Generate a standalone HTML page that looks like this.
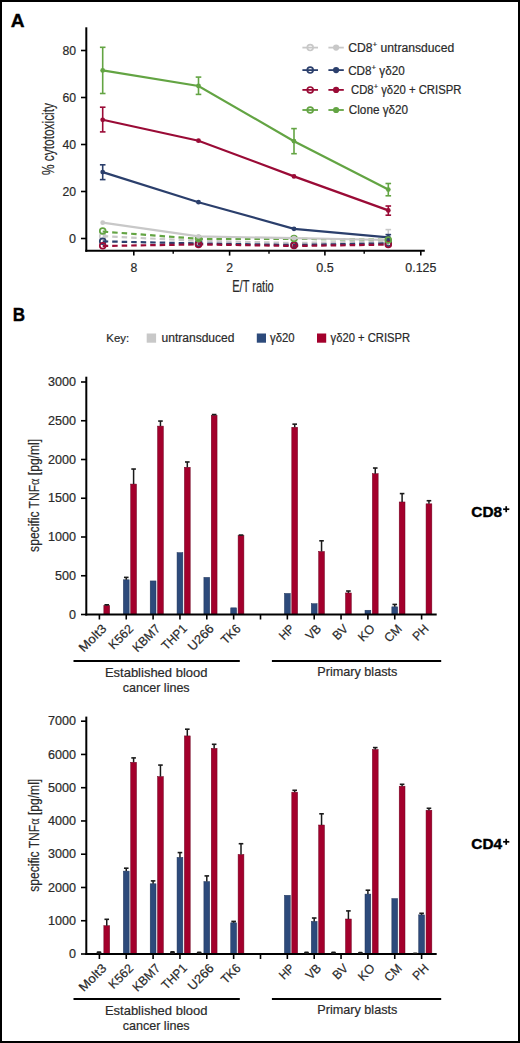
<!DOCTYPE html>
<html><head><meta charset="utf-8"><style>
html,body{margin:0;padding:0;background:#fff;}
body{width:520px;height:1043px;overflow:hidden;}
svg{display:block;font-family:"Liberation Sans", sans-serif;}
</style></head><body>
<svg width="520" height="1043" viewBox="0 0 520 1043">
<rect x="0" y="0" width="520" height="1043" fill="#fff"/>
<text x="10.7" y="27" font-size="18" text-anchor="start" fill="#000" font-weight="bold" textLength="13.8" lengthAdjust="spacingAndGlyphs" stroke="#000" stroke-width="0.35" >A</text>
<line x1="86.3" y1="27.3" x2="86.3" y2="251.8" stroke="#000" stroke-width="2" />
<line x1="85.3" y1="250.8" x2="424.8" y2="250.8" stroke="#000" stroke-width="2" />
<line x1="81" y1="238.5" x2="86.3" y2="238.5" stroke="#000" stroke-width="1.6" />
<text x="76" y="242.7" font-size="12" text-anchor="end" fill="#2a2a2a" font-weight="normal" textLength="7" lengthAdjust="spacingAndGlyphs" stroke="#2a2a2a" stroke-width="0.2" >0</text>
<line x1="81" y1="191.5" x2="86.3" y2="191.5" stroke="#000" stroke-width="1.6" />
<text x="76" y="195.7" font-size="12" text-anchor="end" fill="#2a2a2a" font-weight="normal" textLength="13.6" lengthAdjust="spacingAndGlyphs" stroke="#2a2a2a" stroke-width="0.2" >20</text>
<line x1="81" y1="144.5" x2="86.3" y2="144.5" stroke="#000" stroke-width="1.6" />
<text x="76" y="148.7" font-size="12" text-anchor="end" fill="#2a2a2a" font-weight="normal" textLength="13.6" lengthAdjust="spacingAndGlyphs" stroke="#2a2a2a" stroke-width="0.2" >40</text>
<line x1="81" y1="97.5" x2="86.3" y2="97.5" stroke="#000" stroke-width="1.6" />
<text x="76" y="101.7" font-size="12" text-anchor="end" fill="#2a2a2a" font-weight="normal" textLength="13.6" lengthAdjust="spacingAndGlyphs" stroke="#2a2a2a" stroke-width="0.2" >60</text>
<line x1="81" y1="50.5" x2="86.3" y2="50.5" stroke="#000" stroke-width="1.6" />
<text x="76" y="54.7" font-size="12" text-anchor="end" fill="#2a2a2a" font-weight="normal" textLength="13.6" lengthAdjust="spacingAndGlyphs" stroke="#2a2a2a" stroke-width="0.2" >80</text>
<line x1="133.8" y1="250.8" x2="133.8" y2="255.6" stroke="#000" stroke-width="1.6" />
<text x="133.8" y="271.5" font-size="12" text-anchor="middle" fill="#2a2a2a" font-weight="normal" textLength="6.8" lengthAdjust="spacingAndGlyphs" stroke="#2a2a2a" stroke-width="0.2" >8</text>
<line x1="229.6" y1="250.8" x2="229.6" y2="255.6" stroke="#000" stroke-width="1.6" />
<text x="229.6" y="271.5" font-size="12" text-anchor="middle" fill="#2a2a2a" font-weight="normal" textLength="6.8" lengthAdjust="spacingAndGlyphs" stroke="#2a2a2a" stroke-width="0.2" >2</text>
<line x1="324.9" y1="250.8" x2="324.9" y2="255.6" stroke="#000" stroke-width="1.6" />
<text x="324.9" y="271.5" font-size="12" text-anchor="middle" fill="#2a2a2a" font-weight="normal" textLength="17.5" lengthAdjust="spacingAndGlyphs" stroke="#2a2a2a" stroke-width="0.2" >0.5</text>
<line x1="420.8" y1="250.8" x2="420.8" y2="255.6" stroke="#000" stroke-width="1.6" />
<text x="420.8" y="271.5" font-size="12" text-anchor="middle" fill="#2a2a2a" font-weight="normal" textLength="31" lengthAdjust="spacingAndGlyphs" stroke="#2a2a2a" stroke-width="0.2" >0.125</text>
<line x1="173.2" y1="250.8" x2="173.2" y2="253.8" stroke="#000" stroke-width="1.4" />
<line x1="269.0" y1="250.8" x2="269.0" y2="253.8" stroke="#000" stroke-width="1.4" />
<line x1="364.2" y1="250.8" x2="364.2" y2="253.8" stroke="#000" stroke-width="1.4" />
<text x="253" y="292.4" font-size="17" text-anchor="middle" fill="#2a2a2a" font-weight="normal" textLength="41.5" lengthAdjust="spacingAndGlyphs" stroke="#2a2a2a" stroke-width="0.2" >E/T ratio</text>
<text transform="translate(54.4,139) rotate(-90)" x="0" y="0" font-size="17" stroke="#2a2a2a" stroke-width="0.2" text-anchor="middle" fill="#2a2a2a" textLength="72" lengthAdjust="spacingAndGlyphs">% cytotoxicity</text>
<polyline points="102.7,236.2 198.5,240.8 294.0,243.0 388.3,241.5" fill="none" stroke="#c8c8c8" stroke-width="2.2" stroke-dasharray="5.5 4" opacity="1"/>
<polyline points="102.7,231.6 198.5,238.8 294.0,238.8 388.3,239.8" fill="none" stroke="#63a443" stroke-width="2.2" stroke-dasharray="5.5 4" opacity="1"/>
<polyline points="102.7,241.4 198.5,243.4 294.0,245.0 388.3,243.3" fill="none" stroke="#2b3f6c" stroke-width="2.2" stroke-dasharray="5.5 4" opacity="1"/>
<polyline points="102.7,246.0 198.5,244.4 294.0,246.0 388.3,244.6" fill="none" stroke="#9a0b36" stroke-width="2.2" stroke-dasharray="5.5 4" opacity="1"/>
<circle cx="102.7" cy="236.2" r="2.9" fill="none" stroke="#c8c8c8" stroke-width="1.7"/>
<circle cx="102.7" cy="231.0" r="2.9" fill="none" stroke="#63a443" stroke-width="1.7"/>
<circle cx="102.7" cy="241.2" r="2.9" fill="none" stroke="#2b3f6c" stroke-width="1.7"/>
<circle cx="102.7" cy="245.8" r="2.9" fill="none" stroke="#9a0b36" stroke-width="1.7"/>
<circle cx="198.5" cy="243.4" r="2.9" fill="none" stroke="#2b3f6c" stroke-width="1.7"/>
<circle cx="198.5" cy="244.4" r="2.9" fill="none" stroke="#9a0b36" stroke-width="1.7"/>
<circle cx="198.5" cy="238.6" r="2.9" fill="none" stroke="#63a443" stroke-width="1.7"/>
<circle cx="198.5" cy="238.6" r="2.4" fill="#63a443"/>
<circle cx="294.0" cy="245.0" r="2.9" fill="none" stroke="#2b3f6c" stroke-width="1.7"/>
<circle cx="294.0" cy="245.6" r="2.9" fill="none" stroke="#9a0b36" stroke-width="1.7"/>
<circle cx="294.0" cy="238.6" r="2.9" fill="none" stroke="#63a443" stroke-width="1.7"/>
<circle cx="294.0" cy="238.6" r="2.4" fill="#63a443"/>
<polyline points="102.7,222.7 198.5,236.4 294.0,238.2 388.3,240.0" fill="none" stroke="#c8c8c8" stroke-width="2.2" opacity="1"/>
<line x1="388.3" y1="229.6" x2="388.3" y2="241.5" stroke="#c8c8c8" stroke-width="1.6" />
<line x1="385.5" y1="229.6" x2="391.1" y2="229.6" stroke="#c8c8c8" stroke-width="1.6" />
<line x1="385.5" y1="241.5" x2="391.1" y2="241.5" stroke="#c8c8c8" stroke-width="1.6" />
<circle cx="102.7" cy="222.7" r="2.4" fill="#c8c8c8"/>
<circle cx="198.5" cy="236.4" r="2.4" fill="#c8c8c8"/>
<circle cx="294.0" cy="238.2" r="2.4" fill="#c8c8c8"/>
<circle cx="388.3" cy="240.0" r="2.4" fill="#c8c8c8"/>
<polyline points="102.7,172.1 198.5,202.2 294.0,228.8 388.3,237.3" fill="none" stroke="#2b3f6c" stroke-width="2.2" opacity="1"/>
<line x1="102.7" y1="164.8" x2="102.7" y2="179.6" stroke="#2b3f6c" stroke-width="1.6" />
<line x1="99.9" y1="164.8" x2="105.5" y2="164.8" stroke="#2b3f6c" stroke-width="1.6" />
<line x1="99.9" y1="179.6" x2="105.5" y2="179.6" stroke="#2b3f6c" stroke-width="1.6" />
<circle cx="102.7" cy="172.1" r="2.4" fill="#2b3f6c"/>
<circle cx="198.5" cy="202.2" r="2.4" fill="#2b3f6c"/>
<circle cx="294.0" cy="228.8" r="2.4" fill="#2b3f6c"/>
<circle cx="388.3" cy="237.3" r="2.4" fill="#2b3f6c"/>
<polyline points="102.7,119.8 198.5,140.7 294.0,176.4 388.3,210.4" fill="none" stroke="#9a0b36" stroke-width="2.2" opacity="1"/>
<line x1="102.7" y1="107.2" x2="102.7" y2="131.9" stroke="#9a0b36" stroke-width="1.6" />
<line x1="99.9" y1="107.2" x2="105.5" y2="107.2" stroke="#9a0b36" stroke-width="1.6" />
<line x1="99.9" y1="131.9" x2="105.5" y2="131.9" stroke="#9a0b36" stroke-width="1.6" />
<line x1="388.3" y1="206.0" x2="388.3" y2="215.2" stroke="#9a0b36" stroke-width="1.6" />
<line x1="385.5" y1="206.0" x2="391.1" y2="206.0" stroke="#9a0b36" stroke-width="1.6" />
<line x1="385.5" y1="215.2" x2="391.1" y2="215.2" stroke="#9a0b36" stroke-width="1.6" />
<circle cx="102.7" cy="119.8" r="2.4" fill="#9a0b36"/>
<circle cx="198.5" cy="140.7" r="2.4" fill="#9a0b36"/>
<circle cx="294.0" cy="176.4" r="2.4" fill="#9a0b36"/>
<circle cx="388.3" cy="210.4" r="2.4" fill="#9a0b36"/>
<polyline points="102.7,70.4 198.5,86.0 294.0,141.2 388.3,189.6" fill="none" stroke="#63a443" stroke-width="2.2" opacity="1"/>
<line x1="102.7" y1="47.3" x2="102.7" y2="93.5" stroke="#63a443" stroke-width="1.6" />
<line x1="99.9" y1="47.3" x2="105.5" y2="47.3" stroke="#63a443" stroke-width="1.6" />
<line x1="99.9" y1="93.5" x2="105.5" y2="93.5" stroke="#63a443" stroke-width="1.6" />
<line x1="198.5" y1="77.1" x2="198.5" y2="94.4" stroke="#63a443" stroke-width="1.6" />
<line x1="195.7" y1="77.1" x2="201.3" y2="77.1" stroke="#63a443" stroke-width="1.6" />
<line x1="195.7" y1="94.4" x2="201.3" y2="94.4" stroke="#63a443" stroke-width="1.6" />
<line x1="294.0" y1="128.6" x2="294.0" y2="153.7" stroke="#63a443" stroke-width="1.6" />
<line x1="291.2" y1="128.6" x2="296.8" y2="128.6" stroke="#63a443" stroke-width="1.6" />
<line x1="291.2" y1="153.7" x2="296.8" y2="153.7" stroke="#63a443" stroke-width="1.6" />
<line x1="388.3" y1="183.5" x2="388.3" y2="195.8" stroke="#63a443" stroke-width="1.6" />
<line x1="385.5" y1="183.5" x2="391.1" y2="183.5" stroke="#63a443" stroke-width="1.6" />
<line x1="385.5" y1="195.8" x2="391.1" y2="195.8" stroke="#63a443" stroke-width="1.6" />
<circle cx="102.7" cy="70.4" r="2.4" fill="#63a443"/>
<circle cx="198.5" cy="86.0" r="2.4" fill="#63a443"/>
<circle cx="294.0" cy="141.2" r="2.4" fill="#63a443"/>
<circle cx="388.3" cy="189.6" r="2.4" fill="#63a443"/>
<line x1="388.3" y1="234.6" x2="388.3" y2="240" stroke="#2b3f6c" stroke-width="1.6" />
<line x1="385.5" y1="234.6" x2="391.1" y2="234.6" stroke="#2b3f6c" stroke-width="1.6" />
<line x1="385.5" y1="240" x2="391.1" y2="240" stroke="#2b3f6c" stroke-width="1.6" />
<circle cx="388.3" cy="243.3" r="2.9" fill="none" stroke="#2b3f6c" stroke-width="1.7"/>
<circle cx="388.3" cy="244.6" r="2.9" fill="none" stroke="#9a0b36" stroke-width="1.7"/>
<circle cx="388.3" cy="240.0" r="2.9" fill="none" stroke="#63a443" stroke-width="1.7"/>
<line x1="302.4" y1="47.6" x2="318" y2="47.6" stroke="#c8c8c8" stroke-width="1.8" />
<circle cx="310.2" cy="47.6" r="2.9" fill="none" stroke="#c8c8c8" stroke-width="1.7"/>
<line x1="328.4" y1="47.6" x2="343.8" y2="47.6" stroke="#c8c8c8" stroke-width="1.8" />
<circle cx="336.1" cy="47.6" r="3.1" fill="#c8c8c8"/>
<text x="348.2" y="52.0" font-size="12" text-anchor="start" fill="#2a2a2a" font-weight="normal" textLength="106" lengthAdjust="spacingAndGlyphs" stroke="#2a2a2a" stroke-width="0.2" >CD8<tspan font-size="8" dy="-5">+</tspan><tspan dy="5"> untransduced</tspan></text>
<line x1="302.4" y1="70.1" x2="318" y2="70.1" stroke="#2b3f6c" stroke-width="1.8" />
<circle cx="310.2" cy="70.1" r="2.9" fill="none" stroke="#2b3f6c" stroke-width="1.7"/>
<line x1="328.4" y1="70.1" x2="343.8" y2="70.1" stroke="#2b3f6c" stroke-width="1.8" />
<circle cx="336.1" cy="70.1" r="3.1" fill="#2b3f6c"/>
<text x="348.2" y="74.5" font-size="12" text-anchor="start" fill="#2a2a2a" font-weight="normal" textLength="56.5" lengthAdjust="spacingAndGlyphs" stroke="#2a2a2a" stroke-width="0.2" >CD8<tspan font-size="8" dy="-5">+</tspan><tspan dy="5"> γδ20</tspan></text>
<line x1="302.4" y1="89.9" x2="318" y2="89.9" stroke="#9a0b36" stroke-width="1.8" />
<circle cx="310.2" cy="89.9" r="2.9" fill="none" stroke="#9a0b36" stroke-width="1.7"/>
<line x1="328.4" y1="89.9" x2="343.8" y2="89.9" stroke="#9a0b36" stroke-width="1.8" />
<circle cx="336.1" cy="89.9" r="3.1" fill="#9a0b36"/>
<text x="351.0" y="94.30000000000001" font-size="12" text-anchor="start" fill="#2a2a2a" font-weight="normal" textLength="110.5" lengthAdjust="spacingAndGlyphs" stroke="#2a2a2a" stroke-width="0.2" >CD8<tspan font-size="8" dy="-5">+</tspan><tspan dy="5"> γδ20 + CRISPR</tspan></text>
<line x1="302.4" y1="110.0" x2="318" y2="110.0" stroke="#63a443" stroke-width="1.8" />
<circle cx="310.2" cy="110.0" r="2.9" fill="none" stroke="#63a443" stroke-width="1.7"/>
<line x1="328.4" y1="110.0" x2="343.8" y2="110.0" stroke="#63a443" stroke-width="1.8" />
<circle cx="336.1" cy="110.0" r="3.1" fill="#63a443"/>
<text x="348.8" y="114.4" font-size="12" text-anchor="start" fill="#2a2a2a" font-weight="normal" textLength="59.3" lengthAdjust="spacingAndGlyphs" stroke="#2a2a2a" stroke-width="0.2" >Clone γδ20</text>
<text x="12.8" y="320.8" font-size="18" text-anchor="start" fill="#000" font-weight="bold" textLength="12.3" lengthAdjust="spacingAndGlyphs" stroke="#000" stroke-width="0.35" >B</text>
<text x="106.3" y="342.2" font-size="11.5" text-anchor="start" fill="#2a2a2a" font-weight="normal" textLength="22.8" lengthAdjust="spacingAndGlyphs" stroke="#2a2a2a" stroke-width="0.2" >Key:</text>
<rect x="146.7" y="333.5" width="9.4" height="9.2" fill="#c8c8c8"/>
<text x="161.5" y="342.2" font-size="12" text-anchor="start" fill="#2a2a2a" font-weight="normal" textLength="73" lengthAdjust="spacingAndGlyphs" stroke="#2a2a2a" stroke-width="0.2" >untransduced</text>
<rect x="256.8" y="333.5" width="9.2" height="9.2" fill="#2d4a7b"/>
<text x="270" y="342.2" font-size="12" text-anchor="start" fill="#2a2a2a" font-weight="normal" textLength="24.6" lengthAdjust="spacingAndGlyphs" stroke="#2a2a2a" stroke-width="0.2" >γδ20</text>
<rect x="317" y="333.5" width="9.2" height="9.2" fill="#a3002c"/>
<text x="330.6" y="342.2" font-size="12" text-anchor="start" fill="#2a2a2a" font-weight="normal" textLength="79.6" lengthAdjust="spacingAndGlyphs" stroke="#2a2a2a" stroke-width="0.2" >γδ20 + CRISPR</text>
<rect x="103.85" y="605.43" width="5.8" height="9.07" fill="#a3002c" stroke="#6e0020" stroke-width="0.5"/>
<line x1="106.75" y1="604.8125" x2="106.75" y2="605.4325" stroke="#1a1a1a" stroke-width="1.5" />
<line x1="104.45" y1="604.8125" x2="109.05" y2="604.8125" stroke="#1a1a1a" stroke-width="1.6" />
<rect x="123.35" y="579.78" width="5.8" height="34.72" fill="#2d4a7b" stroke="#1f3358" stroke-width="0.5"/>
<line x1="126.25" y1="577.3775" x2="126.25" y2="579.78" stroke="#1a1a1a" stroke-width="1.5" />
<line x1="123.95" y1="577.3775" x2="128.55" y2="577.3775" stroke="#1a1a1a" stroke-width="1.6" />
<rect x="130.70" y="484.07" width="5.8" height="130.43" fill="#a3002c" stroke="#6e0020" stroke-width="0.5"/>
<line x1="133.6" y1="469.0325" x2="133.6" y2="484.0675" stroke="#1a1a1a" stroke-width="1.5" />
<line x1="131.29999999999998" y1="469.0325" x2="135.9" y2="469.0325" stroke="#1a1a1a" stroke-width="1.6" />
<rect x="150.20" y="580.94" width="5.8" height="33.56" fill="#2d4a7b" stroke="#1f3358" stroke-width="0.5"/>
<rect x="157.55" y="426.10" width="5.8" height="188.40" fill="#a3002c" stroke="#6e0020" stroke-width="0.5"/>
<line x1="160.45000000000002" y1="421.06" x2="160.45000000000002" y2="426.09749999999997" stroke="#1a1a1a" stroke-width="1.5" />
<line x1="158.15" y1="421.06" x2="162.75000000000003" y2="421.06" stroke="#1a1a1a" stroke-width="1.6" />
<rect x="177.05" y="552.65" width="5.8" height="61.85" fill="#2d4a7b" stroke="#1f3358" stroke-width="0.5"/>
<rect x="184.40" y="467.25" width="5.8" height="147.25" fill="#a3002c" stroke="#6e0020" stroke-width="0.5"/>
<line x1="187.3" y1="461.98" x2="187.3" y2="467.25" stroke="#1a1a1a" stroke-width="1.5" />
<line x1="185.0" y1="461.98" x2="189.60000000000002" y2="461.98" stroke="#1a1a1a" stroke-width="1.6" />
<rect x="203.90" y="577.38" width="5.8" height="37.12" fill="#2d4a7b" stroke="#1f3358" stroke-width="0.5"/>
<rect x="211.25" y="415.32" width="5.8" height="199.18" fill="#a3002c" stroke="#6e0020" stroke-width="0.5"/>
<line x1="214.15" y1="414.55" x2="214.15" y2="415.325" stroke="#1a1a1a" stroke-width="1.5" />
<line x1="211.85" y1="414.55" x2="216.45000000000002" y2="414.55" stroke="#1a1a1a" stroke-width="1.6" />
<rect x="230.75" y="607.84" width="5.8" height="6.66" fill="#2d4a7b" stroke="#1f3358" stroke-width="0.5"/>
<rect x="238.10" y="535.53" width="5.8" height="78.97" fill="#a3002c" stroke="#6e0020" stroke-width="0.5"/>
<line x1="241.0" y1="535.0625" x2="241.0" y2="535.5275" stroke="#1a1a1a" stroke-width="1.5" />
<line x1="238.7" y1="535.0625" x2="243.3" y2="535.0625" stroke="#1a1a1a" stroke-width="1.6" />
<rect x="284.45" y="593.42" width="5.8" height="21.08" fill="#2d4a7b" stroke="#1f3358" stroke-width="0.5"/>
<rect x="291.80" y="427.26" width="5.8" height="187.24" fill="#a3002c" stroke="#6e0020" stroke-width="0.5"/>
<line x1="294.70000000000005" y1="424.15999999999997" x2="294.70000000000005" y2="427.26" stroke="#1a1a1a" stroke-width="1.5" />
<line x1="292.40000000000003" y1="424.15999999999997" x2="297.00000000000006" y2="424.15999999999997" stroke="#1a1a1a" stroke-width="1.6" />
<rect x="311.30" y="603.73" width="5.8" height="10.77" fill="#2d4a7b" stroke="#1f3358" stroke-width="0.5"/>
<rect x="318.65" y="551.49" width="5.8" height="63.01" fill="#a3002c" stroke="#6e0020" stroke-width="0.5"/>
<line x1="321.55000000000007" y1="540.7975" x2="321.55000000000007" y2="551.4925" stroke="#1a1a1a" stroke-width="1.5" />
<line x1="319.25000000000006" y1="540.7975" x2="323.8500000000001" y2="540.7975" stroke="#1a1a1a" stroke-width="1.6" />
<rect x="345.50" y="592.96" width="5.8" height="21.54" fill="#a3002c" stroke="#6e0020" stroke-width="0.5"/>
<line x1="348.40000000000003" y1="591.0175" x2="348.40000000000003" y2="592.955" stroke="#1a1a1a" stroke-width="1.5" />
<line x1="346.1" y1="591.0175" x2="350.70000000000005" y2="591.0175" stroke="#1a1a1a" stroke-width="1.6" />
<rect x="365.00" y="610.24" width="5.8" height="4.26" fill="#2d4a7b" stroke="#1f3358" stroke-width="0.5"/>
<rect x="372.35" y="473.68" width="5.8" height="140.82" fill="#a3002c" stroke="#6e0020" stroke-width="0.5"/>
<line x1="375.25" y1="468.025" x2="375.25" y2="473.6825" stroke="#1a1a1a" stroke-width="1.5" />
<line x1="372.95" y1="468.025" x2="377.55" y2="468.025" stroke="#1a1a1a" stroke-width="1.6" />
<rect x="391.85" y="606.83" width="5.8" height="7.67" fill="#2d4a7b" stroke="#1f3358" stroke-width="0.5"/>
<line x1="394.75" y1="604.425" x2="394.75" y2="606.8275" stroke="#1a1a1a" stroke-width="1.5" />
<line x1="392.45" y1="604.425" x2="397.05" y2="604.425" stroke="#1a1a1a" stroke-width="1.6" />
<rect x="399.20" y="501.97" width="5.8" height="112.53" fill="#a3002c" stroke="#6e0020" stroke-width="0.5"/>
<line x1="402.1" y1="493.6" x2="402.1" y2="501.97" stroke="#1a1a1a" stroke-width="1.5" />
<line x1="399.8" y1="493.6" x2="404.40000000000003" y2="493.6" stroke="#1a1a1a" stroke-width="1.6" />
<rect x="426.05" y="503.83" width="5.8" height="110.67" fill="#a3002c" stroke="#6e0020" stroke-width="0.5"/>
<line x1="428.95000000000005" y1="500.73" x2="428.95000000000005" y2="503.83" stroke="#1a1a1a" stroke-width="1.5" />
<line x1="426.65000000000003" y1="500.73" x2="431.25000000000006" y2="500.73" stroke="#1a1a1a" stroke-width="1.6" />
<line x1="86.3" y1="376.7" x2="86.3" y2="615.5" stroke="#000" stroke-width="2" />
<line x1="85.3" y1="614.5" x2="436.7" y2="614.5" stroke="#000" stroke-width="2" />
<line x1="81" y1="614.5" x2="86.3" y2="614.5" stroke="#000" stroke-width="1.6" />
<text x="76" y="618.7" font-size="12" text-anchor="end" fill="#2a2a2a" font-weight="normal" textLength="7" lengthAdjust="spacingAndGlyphs" stroke="#2a2a2a" stroke-width="0.2" >0</text>
<line x1="81" y1="575.75" x2="86.3" y2="575.75" stroke="#000" stroke-width="1.6" />
<text x="76" y="579.95" font-size="12" text-anchor="end" fill="#2a2a2a" font-weight="normal" textLength="21" lengthAdjust="spacingAndGlyphs" stroke="#2a2a2a" stroke-width="0.2" >500</text>
<line x1="81" y1="537.0" x2="86.3" y2="537.0" stroke="#000" stroke-width="1.6" />
<text x="76" y="541.2" font-size="12" text-anchor="end" fill="#2a2a2a" font-weight="normal" textLength="28" lengthAdjust="spacingAndGlyphs" stroke="#2a2a2a" stroke-width="0.2" >1000</text>
<line x1="81" y1="498.25" x2="86.3" y2="498.25" stroke="#000" stroke-width="1.6" />
<text x="76" y="502.45" font-size="12" text-anchor="end" fill="#2a2a2a" font-weight="normal" textLength="28" lengthAdjust="spacingAndGlyphs" stroke="#2a2a2a" stroke-width="0.2" >1500</text>
<line x1="81" y1="459.5" x2="86.3" y2="459.5" stroke="#000" stroke-width="1.6" />
<text x="76" y="463.7" font-size="12" text-anchor="end" fill="#2a2a2a" font-weight="normal" textLength="28" lengthAdjust="spacingAndGlyphs" stroke="#2a2a2a" stroke-width="0.2" >2000</text>
<line x1="81" y1="420.75" x2="86.3" y2="420.75" stroke="#000" stroke-width="1.6" />
<text x="76" y="424.95" font-size="12" text-anchor="end" fill="#2a2a2a" font-weight="normal" textLength="28" lengthAdjust="spacingAndGlyphs" stroke="#2a2a2a" stroke-width="0.2" >2500</text>
<line x1="81" y1="382.0" x2="86.3" y2="382.0" stroke="#000" stroke-width="1.6" />
<text x="76" y="386.2" font-size="12" text-anchor="end" fill="#2a2a2a" font-weight="normal" textLength="28" lengthAdjust="spacingAndGlyphs" stroke="#2a2a2a" stroke-width="0.2" >3000</text>
<line x1="99.4" y1="614.5" x2="99.4" y2="619.5" stroke="#000" stroke-width="1.6" />
<line x1="126.25" y1="614.5" x2="126.25" y2="619.5" stroke="#000" stroke-width="1.6" />
<line x1="153.10000000000002" y1="614.5" x2="153.10000000000002" y2="619.5" stroke="#000" stroke-width="1.6" />
<line x1="179.95000000000002" y1="614.5" x2="179.95000000000002" y2="619.5" stroke="#000" stroke-width="1.6" />
<line x1="206.8" y1="614.5" x2="206.8" y2="619.5" stroke="#000" stroke-width="1.6" />
<line x1="233.65" y1="614.5" x2="233.65" y2="619.5" stroke="#000" stroke-width="1.6" />
<line x1="260.5" y1="614.5" x2="260.5" y2="619.5" stroke="#000" stroke-width="1.6" />
<line x1="287.35" y1="614.5" x2="287.35" y2="619.5" stroke="#000" stroke-width="1.6" />
<line x1="314.20000000000005" y1="614.5" x2="314.20000000000005" y2="619.5" stroke="#000" stroke-width="1.6" />
<line x1="341.05" y1="614.5" x2="341.05" y2="619.5" stroke="#000" stroke-width="1.6" />
<line x1="367.9" y1="614.5" x2="367.9" y2="619.5" stroke="#000" stroke-width="1.6" />
<line x1="394.75" y1="614.5" x2="394.75" y2="619.5" stroke="#000" stroke-width="1.6" />
<line x1="421.6" y1="614.5" x2="421.6" y2="619.5" stroke="#000" stroke-width="1.6" />
<text transform="translate(107.2,629.5) rotate(-45)" x="0" y="0" font-size="12.5" text-anchor="end" fill="#2a2a2a" stroke="#2a2a2a" stroke-width="0.2" textLength="33" lengthAdjust="spacingAndGlyphs">Molt3</text>
<text transform="translate(134.1,629.5) rotate(-45)" x="0" y="0" font-size="12.5" text-anchor="end" fill="#2a2a2a" stroke="#2a2a2a" stroke-width="0.2" textLength="29" lengthAdjust="spacingAndGlyphs">K562</text>
<text transform="translate(160.9,629.5) rotate(-45)" x="0" y="0" font-size="12.5" text-anchor="end" fill="#2a2a2a" stroke="#2a2a2a" stroke-width="0.2" textLength="33" lengthAdjust="spacingAndGlyphs">KBM7</text>
<text transform="translate(187.8,629.5) rotate(-45)" x="0" y="0" font-size="12.5" text-anchor="end" fill="#2a2a2a" stroke="#2a2a2a" stroke-width="0.2" textLength="30" lengthAdjust="spacingAndGlyphs">THP1</text>
<text transform="translate(214.6,629.5) rotate(-45)" x="0" y="0" font-size="12.5" text-anchor="end" fill="#2a2a2a" stroke="#2a2a2a" stroke-width="0.2" textLength="31" lengthAdjust="spacingAndGlyphs">U266</text>
<text transform="translate(241.5,629.5) rotate(-45)" x="0" y="0" font-size="12.5" text-anchor="end" fill="#2a2a2a" stroke="#2a2a2a" stroke-width="0.2" textLength="22" lengthAdjust="spacingAndGlyphs">TK6</text>
<text transform="translate(295.2,629.5) rotate(-45)" x="0" y="0" font-size="12.5" text-anchor="end" fill="#2a2a2a" stroke="#2a2a2a" stroke-width="0.2" textLength="16" lengthAdjust="spacingAndGlyphs">HP</text>
<text transform="translate(322.0,629.5) rotate(-45)" x="0" y="0" font-size="12.5" text-anchor="end" fill="#2a2a2a" stroke="#2a2a2a" stroke-width="0.2" textLength="16" lengthAdjust="spacingAndGlyphs">VB</text>
<text transform="translate(348.9,629.5) rotate(-45)" x="0" y="0" font-size="12.5" text-anchor="end" fill="#2a2a2a" stroke="#2a2a2a" stroke-width="0.2" textLength="16" lengthAdjust="spacingAndGlyphs">BV</text>
<text transform="translate(375.7,629.5) rotate(-45)" x="0" y="0" font-size="12.5" text-anchor="end" fill="#2a2a2a" stroke="#2a2a2a" stroke-width="0.2" textLength="18" lengthAdjust="spacingAndGlyphs">KO</text>
<text transform="translate(402.6,629.5) rotate(-45)" x="0" y="0" font-size="12.5" text-anchor="end" fill="#2a2a2a" stroke="#2a2a2a" stroke-width="0.2" textLength="19" lengthAdjust="spacingAndGlyphs">CM</text>
<text transform="translate(429.4,629.5) rotate(-45)" x="0" y="0" font-size="12.5" text-anchor="end" fill="#2a2a2a" stroke="#2a2a2a" stroke-width="0.2" textLength="17" lengthAdjust="spacingAndGlyphs">PH</text>
<line x1="73.5" y1="661.0" x2="239.8" y2="661.0" stroke="#000" stroke-width="2" />
<line x1="271.9" y1="661.0" x2="441.2" y2="661.0" stroke="#000" stroke-width="2" />
<text x="156.2" y="676.8" font-size="13" text-anchor="middle" fill="#2a2a2a" font-weight="normal" textLength="102.6" lengthAdjust="spacingAndGlyphs" stroke="#2a2a2a" stroke-width="0.2" >Established blood</text>
<text x="156.2" y="692.3" font-size="13" text-anchor="middle" fill="#2a2a2a" font-weight="normal" textLength="66.9" lengthAdjust="spacingAndGlyphs" stroke="#2a2a2a" stroke-width="0.2" >cancer lines</text>
<text x="357.3" y="676.2" font-size="13" text-anchor="middle" fill="#2a2a2a" font-weight="normal" textLength="80" lengthAdjust="spacingAndGlyphs" stroke="#2a2a2a" stroke-width="0.2" >Primary blasts</text>
<text transform="translate(38.8,495.4) rotate(-90)" x="0" y="0" font-size="15" text-anchor="middle" fill="#2a2a2a" stroke="#2a2a2a" stroke-width="0.2" textLength="113" lengthAdjust="spacingAndGlyphs">specific TNF<tspan font-family="Liberation Serif">α</tspan> [pg/ml]</text>
<text x="471.3" y="516.6" font-size="14.5" font-weight="bold" fill="#000" stroke="#000" stroke-width="0.4" textLength="30.7" lengthAdjust="spacingAndGlyphs">CD8</text>
<line x1="503.09999999999997" y1="509.20000000000005" x2="509.3" y2="509.20000000000005" stroke="#000" stroke-width="1.7" />
<line x1="506.2" y1="506.20000000000005" x2="506.2" y2="512.2" stroke="#000" stroke-width="1.7" />
<rect x="103.85" y="925.70" width="5.8" height="28.30" fill="#a3002c" stroke="#6e0020" stroke-width="0.5"/>
<line x1="106.75" y1="919.30982" x2="106.75" y2="925.69574" stroke="#1a1a1a" stroke-width="1.5" />
<line x1="104.45" y1="919.30982" x2="109.05" y2="919.30982" stroke="#1a1a1a" stroke-width="1.6" />
<rect x="123.35" y="871.12" width="5.8" height="82.88" fill="#2d4a7b" stroke="#1f3358" stroke-width="0.5"/>
<line x1="126.25" y1="868.1892" x2="126.25" y2="871.11608" stroke="#1a1a1a" stroke-width="1.5" />
<line x1="123.95" y1="868.1892" x2="128.55" y2="868.1892" stroke="#1a1a1a" stroke-width="1.6" />
<rect x="130.70" y="762.29" width="5.8" height="191.71" fill="#a3002c" stroke="#6e0020" stroke-width="0.5"/>
<line x1="133.6" y1="757.89904" x2="133.6" y2="762.28936" stroke="#1a1a1a" stroke-width="1.5" />
<line x1="131.29999999999998" y1="757.89904" x2="135.9" y2="757.89904" stroke="#1a1a1a" stroke-width="1.6" />
<rect x="150.20" y="883.79" width="5.8" height="70.21" fill="#2d4a7b" stroke="#1f3358" stroke-width="0.5"/>
<line x1="153.10000000000002" y1="880.89452" x2="153.10000000000002" y2="883.78814" stroke="#1a1a1a" stroke-width="1.5" />
<line x1="150.8" y1="880.89452" x2="155.40000000000003" y2="880.89452" stroke="#1a1a1a" stroke-width="1.6" />
<rect x="157.55" y="776.59" width="5.8" height="177.41" fill="#a3002c" stroke="#6e0020" stroke-width="0.5"/>
<line x1="160.45000000000002" y1="765.0832" x2="160.45000000000002" y2="776.59116" stroke="#1a1a1a" stroke-width="1.5" />
<line x1="158.15" y1="765.0832" x2="162.75000000000003" y2="765.0832" stroke="#1a1a1a" stroke-width="1.6" />
<rect x="177.05" y="857.41" width="5.8" height="96.59" fill="#2d4a7b" stroke="#1f3358" stroke-width="0.5"/>
<line x1="179.95000000000002" y1="852.59026" x2="179.95000000000002" y2="857.41296" stroke="#1a1a1a" stroke-width="1.5" />
<line x1="177.65" y1="852.59026" x2="182.25000000000003" y2="852.59026" stroke="#1a1a1a" stroke-width="1.6" />
<rect x="184.40" y="735.91" width="5.8" height="218.09" fill="#a3002c" stroke="#6e0020" stroke-width="0.5"/>
<line x1="187.3" y1="729.19566" x2="187.3" y2="735.91418" stroke="#1a1a1a" stroke-width="1.5" />
<line x1="185.0" y1="729.19566" x2="189.60000000000002" y2="729.19566" stroke="#1a1a1a" stroke-width="1.6" />
<rect x="203.90" y="881.59" width="5.8" height="72.41" fill="#2d4a7b" stroke="#1f3358" stroke-width="0.5"/>
<line x1="206.8" y1="875.90552" x2="206.8" y2="881.59298" stroke="#1a1a1a" stroke-width="1.5" />
<line x1="204.5" y1="875.90552" x2="209.10000000000002" y2="875.90552" stroke="#1a1a1a" stroke-width="1.6" />
<rect x="211.25" y="748.39" width="5.8" height="205.61" fill="#a3002c" stroke="#6e0020" stroke-width="0.5"/>
<line x1="214.15" y1="744.2957" x2="214.15" y2="748.3866800000001" stroke="#1a1a1a" stroke-width="1.5" />
<line x1="211.85" y1="744.2957" x2="216.45000000000002" y2="744.2957" stroke="#1a1a1a" stroke-width="1.6" />
<rect x="230.75" y="922.80" width="5.8" height="31.20" fill="#2d4a7b" stroke="#1f3358" stroke-width="0.5"/>
<line x1="233.65" y1="921.4052" x2="233.65" y2="922.8021200000001" stroke="#1a1a1a" stroke-width="1.5" />
<line x1="231.35" y1="921.4052" x2="235.95000000000002" y2="921.4052" stroke="#1a1a1a" stroke-width="1.6" />
<rect x="238.10" y="854.49" width="5.8" height="99.51" fill="#a3002c" stroke="#6e0020" stroke-width="0.5"/>
<line x1="241.0" y1="843.70984" x2="241.0" y2="854.48608" stroke="#1a1a1a" stroke-width="1.5" />
<line x1="238.7" y1="843.70984" x2="243.3" y2="843.70984" stroke="#1a1a1a" stroke-width="1.6" />
<rect x="284.45" y="895.30" width="5.8" height="58.70" fill="#2d4a7b" stroke="#1f3358" stroke-width="0.5"/>
<rect x="291.80" y="792.19" width="5.8" height="161.81" fill="#a3002c" stroke="#6e0020" stroke-width="0.5"/>
<line x1="294.70000000000005" y1="790.2942800000001" x2="294.70000000000005" y2="792.1901" stroke="#1a1a1a" stroke-width="1.5" />
<line x1="292.40000000000003" y1="790.2942800000001" x2="297.00000000000006" y2="790.2942800000001" stroke="#1a1a1a" stroke-width="1.6" />
<rect x="311.30" y="921.41" width="5.8" height="32.59" fill="#2d4a7b" stroke="#1f3358" stroke-width="0.5"/>
<line x1="314.20000000000005" y1="918.01268" x2="314.20000000000005" y2="921.4052" stroke="#1a1a1a" stroke-width="1.5" />
<line x1="311.90000000000003" y1="918.01268" x2="316.50000000000006" y2="918.01268" stroke="#1a1a1a" stroke-width="1.6" />
<rect x="318.65" y="825.02" width="5.8" height="128.98" fill="#a3002c" stroke="#6e0020" stroke-width="0.5"/>
<line x1="321.55000000000007" y1="813.8091" x2="321.55000000000007" y2="825.01772" stroke="#1a1a1a" stroke-width="1.5" />
<line x1="319.25000000000006" y1="813.8091" x2="323.8500000000001" y2="813.8091" stroke="#1a1a1a" stroke-width="1.6" />
<rect x="345.50" y="919.01" width="5.8" height="34.99" fill="#a3002c" stroke="#6e0020" stroke-width="0.5"/>
<line x1="348.40000000000003" y1="910.89504" x2="348.40000000000003" y2="919.01048" stroke="#1a1a1a" stroke-width="1.5" />
<line x1="346.1" y1="910.89504" x2="350.70000000000005" y2="910.89504" stroke="#1a1a1a" stroke-width="1.6" />
<rect x="365.00" y="894.10" width="5.8" height="59.90" fill="#2d4a7b" stroke="#1f3358" stroke-width="0.5"/>
<line x1="367.9" y1="890.20732" x2="367.9" y2="894.09874" stroke="#1a1a1a" stroke-width="1.5" />
<line x1="365.59999999999997" y1="890.20732" x2="370.2" y2="890.20732" stroke="#1a1a1a" stroke-width="1.6" />
<rect x="372.35" y="749.48" width="5.8" height="204.52" fill="#a3002c" stroke="#6e0020" stroke-width="0.5"/>
<line x1="375.25" y1="747.58844" x2="375.25" y2="749.48426" stroke="#1a1a1a" stroke-width="1.5" />
<line x1="372.95" y1="747.58844" x2="377.55" y2="747.58844" stroke="#1a1a1a" stroke-width="1.6" />
<rect x="391.85" y="898.59" width="5.8" height="55.41" fill="#2d4a7b" stroke="#1f3358" stroke-width="0.5"/>
<rect x="399.20" y="786.20" width="5.8" height="167.80" fill="#a3002c" stroke="#6e0020" stroke-width="0.5"/>
<line x1="402.1" y1="784.3074799999999" x2="402.1" y2="786.2033" stroke="#1a1a1a" stroke-width="1.5" />
<line x1="399.8" y1="784.3074799999999" x2="404.40000000000003" y2="784.3074799999999" stroke="#1a1a1a" stroke-width="1.6" />
<rect x="418.70" y="914.89" width="5.8" height="39.11" fill="#2d4a7b" stroke="#1f3358" stroke-width="0.5"/>
<line x1="421.6" y1="913.28976" x2="421.6" y2="914.88624" stroke="#1a1a1a" stroke-width="1.5" />
<line x1="419.3" y1="913.28976" x2="423.90000000000003" y2="913.28976" stroke="#1a1a1a" stroke-width="1.6" />
<rect x="426.05" y="810.22" width="5.8" height="143.78" fill="#a3002c" stroke="#6e0020" stroke-width="0.5"/>
<line x1="428.95000000000005" y1="808.28794" x2="428.95000000000005" y2="810.21702" stroke="#1a1a1a" stroke-width="1.5" />
<line x1="426.65000000000003" y1="808.28794" x2="431.25000000000006" y2="808.28794" stroke="#1a1a1a" stroke-width="1.6" />
<line x1="86.3" y1="716.6" x2="86.3" y2="955.0" stroke="#000" stroke-width="2" />
<line x1="85.3" y1="954.0" x2="436.7" y2="954.0" stroke="#000" stroke-width="2" />
<line x1="81" y1="954.0" x2="86.3" y2="954.0" stroke="#000" stroke-width="1.6" />
<text x="76" y="958.2" font-size="12" text-anchor="end" fill="#2a2a2a" font-weight="normal" textLength="7" lengthAdjust="spacingAndGlyphs" stroke="#2a2a2a" stroke-width="0.2" >0</text>
<line x1="81" y1="920.74" x2="86.3" y2="920.74" stroke="#000" stroke-width="1.6" />
<text x="76" y="924.94" font-size="12" text-anchor="end" fill="#2a2a2a" font-weight="normal" textLength="28" lengthAdjust="spacingAndGlyphs" stroke="#2a2a2a" stroke-width="0.2" >1000</text>
<line x1="81" y1="887.48" x2="86.3" y2="887.48" stroke="#000" stroke-width="1.6" />
<text x="76" y="891.6800000000001" font-size="12" text-anchor="end" fill="#2a2a2a" font-weight="normal" textLength="28" lengthAdjust="spacingAndGlyphs" stroke="#2a2a2a" stroke-width="0.2" >2000</text>
<line x1="81" y1="854.22" x2="86.3" y2="854.22" stroke="#000" stroke-width="1.6" />
<text x="76" y="858.4200000000001" font-size="12" text-anchor="end" fill="#2a2a2a" font-weight="normal" textLength="28" lengthAdjust="spacingAndGlyphs" stroke="#2a2a2a" stroke-width="0.2" >3000</text>
<line x1="81" y1="820.96" x2="86.3" y2="820.96" stroke="#000" stroke-width="1.6" />
<text x="76" y="825.1600000000001" font-size="12" text-anchor="end" fill="#2a2a2a" font-weight="normal" textLength="28" lengthAdjust="spacingAndGlyphs" stroke="#2a2a2a" stroke-width="0.2" >4000</text>
<line x1="81" y1="787.7" x2="86.3" y2="787.7" stroke="#000" stroke-width="1.6" />
<text x="76" y="791.9000000000001" font-size="12" text-anchor="end" fill="#2a2a2a" font-weight="normal" textLength="28" lengthAdjust="spacingAndGlyphs" stroke="#2a2a2a" stroke-width="0.2" >5000</text>
<line x1="81" y1="754.44" x2="86.3" y2="754.44" stroke="#000" stroke-width="1.6" />
<text x="76" y="758.6400000000001" font-size="12" text-anchor="end" fill="#2a2a2a" font-weight="normal" textLength="28" lengthAdjust="spacingAndGlyphs" stroke="#2a2a2a" stroke-width="0.2" >6000</text>
<line x1="81" y1="721.1800000000001" x2="86.3" y2="721.1800000000001" stroke="#000" stroke-width="1.6" />
<text x="76" y="725.3800000000001" font-size="12" text-anchor="end" fill="#2a2a2a" font-weight="normal" textLength="28" lengthAdjust="spacingAndGlyphs" stroke="#2a2a2a" stroke-width="0.2" >7000</text>
<line x1="99.4" y1="954.0" x2="99.4" y2="959.0" stroke="#000" stroke-width="1.6" />
<line x1="126.25" y1="954.0" x2="126.25" y2="959.0" stroke="#000" stroke-width="1.6" />
<line x1="153.10000000000002" y1="954.0" x2="153.10000000000002" y2="959.0" stroke="#000" stroke-width="1.6" />
<line x1="179.95000000000002" y1="954.0" x2="179.95000000000002" y2="959.0" stroke="#000" stroke-width="1.6" />
<line x1="206.8" y1="954.0" x2="206.8" y2="959.0" stroke="#000" stroke-width="1.6" />
<line x1="233.65" y1="954.0" x2="233.65" y2="959.0" stroke="#000" stroke-width="1.6" />
<line x1="260.5" y1="954.0" x2="260.5" y2="959.0" stroke="#000" stroke-width="1.6" />
<line x1="287.35" y1="954.0" x2="287.35" y2="959.0" stroke="#000" stroke-width="1.6" />
<line x1="314.20000000000005" y1="954.0" x2="314.20000000000005" y2="959.0" stroke="#000" stroke-width="1.6" />
<line x1="341.05" y1="954.0" x2="341.05" y2="959.0" stroke="#000" stroke-width="1.6" />
<line x1="367.9" y1="954.0" x2="367.9" y2="959.0" stroke="#000" stroke-width="1.6" />
<line x1="394.75" y1="954.0" x2="394.75" y2="959.0" stroke="#000" stroke-width="1.6" />
<line x1="421.6" y1="954.0" x2="421.6" y2="959.0" stroke="#000" stroke-width="1.6" />
<text transform="translate(107.2,969.0) rotate(-45)" x="0" y="0" font-size="12.5" text-anchor="end" fill="#2a2a2a" stroke="#2a2a2a" stroke-width="0.2" textLength="33" lengthAdjust="spacingAndGlyphs">Molt3</text>
<text transform="translate(134.1,969.0) rotate(-45)" x="0" y="0" font-size="12.5" text-anchor="end" fill="#2a2a2a" stroke="#2a2a2a" stroke-width="0.2" textLength="29" lengthAdjust="spacingAndGlyphs">K562</text>
<text transform="translate(160.9,969.0) rotate(-45)" x="0" y="0" font-size="12.5" text-anchor="end" fill="#2a2a2a" stroke="#2a2a2a" stroke-width="0.2" textLength="33" lengthAdjust="spacingAndGlyphs">KBM7</text>
<text transform="translate(187.8,969.0) rotate(-45)" x="0" y="0" font-size="12.5" text-anchor="end" fill="#2a2a2a" stroke="#2a2a2a" stroke-width="0.2" textLength="30" lengthAdjust="spacingAndGlyphs">THP1</text>
<text transform="translate(214.6,969.0) rotate(-45)" x="0" y="0" font-size="12.5" text-anchor="end" fill="#2a2a2a" stroke="#2a2a2a" stroke-width="0.2" textLength="31" lengthAdjust="spacingAndGlyphs">U266</text>
<text transform="translate(241.5,969.0) rotate(-45)" x="0" y="0" font-size="12.5" text-anchor="end" fill="#2a2a2a" stroke="#2a2a2a" stroke-width="0.2" textLength="22" lengthAdjust="spacingAndGlyphs">TK6</text>
<text transform="translate(295.2,969.0) rotate(-45)" x="0" y="0" font-size="12.5" text-anchor="end" fill="#2a2a2a" stroke="#2a2a2a" stroke-width="0.2" textLength="16" lengthAdjust="spacingAndGlyphs">HP</text>
<text transform="translate(322.0,969.0) rotate(-45)" x="0" y="0" font-size="12.5" text-anchor="end" fill="#2a2a2a" stroke="#2a2a2a" stroke-width="0.2" textLength="16" lengthAdjust="spacingAndGlyphs">VB</text>
<text transform="translate(348.9,969.0) rotate(-45)" x="0" y="0" font-size="12.5" text-anchor="end" fill="#2a2a2a" stroke="#2a2a2a" stroke-width="0.2" textLength="16" lengthAdjust="spacingAndGlyphs">BV</text>
<text transform="translate(375.7,969.0) rotate(-45)" x="0" y="0" font-size="12.5" text-anchor="end" fill="#2a2a2a" stroke="#2a2a2a" stroke-width="0.2" textLength="18" lengthAdjust="spacingAndGlyphs">KO</text>
<text transform="translate(402.6,969.0) rotate(-45)" x="0" y="0" font-size="12.5" text-anchor="end" fill="#2a2a2a" stroke="#2a2a2a" stroke-width="0.2" textLength="19" lengthAdjust="spacingAndGlyphs">CM</text>
<text transform="translate(429.4,969.0) rotate(-45)" x="0" y="0" font-size="12.5" text-anchor="end" fill="#2a2a2a" stroke="#2a2a2a" stroke-width="0.2" textLength="17" lengthAdjust="spacingAndGlyphs">PH</text>
<line x1="73.5" y1="999.0" x2="239.8" y2="999.0" stroke="#000" stroke-width="2" />
<line x1="271.9" y1="999.0" x2="441.2" y2="999.0" stroke="#000" stroke-width="2" />
<text x="156.2" y="1014.8" font-size="13" text-anchor="middle" fill="#2a2a2a" font-weight="normal" textLength="102.6" lengthAdjust="spacingAndGlyphs" stroke="#2a2a2a" stroke-width="0.2" >Established blood</text>
<text x="156.2" y="1030.3" font-size="13" text-anchor="middle" fill="#2a2a2a" font-weight="normal" textLength="66.9" lengthAdjust="spacingAndGlyphs" stroke="#2a2a2a" stroke-width="0.2" >cancer lines</text>
<text x="357.3" y="1014.2" font-size="13" text-anchor="middle" fill="#2a2a2a" font-weight="normal" textLength="80" lengthAdjust="spacingAndGlyphs" stroke="#2a2a2a" stroke-width="0.2" >Primary blasts</text>
<text transform="translate(38.8,835.3) rotate(-90)" x="0" y="0" font-size="15" text-anchor="middle" fill="#2a2a2a" stroke="#2a2a2a" stroke-width="0.2" textLength="113" lengthAdjust="spacingAndGlyphs">specific TNF<tspan font-family="Liberation Serif">α</tspan> [pg/ml]</text>
<text x="471.3" y="849.2" font-size="14.5" font-weight="bold" fill="#000" stroke="#000" stroke-width="0.4" textLength="30.7" lengthAdjust="spacingAndGlyphs">CD4</text>
<line x1="503.09999999999997" y1="841.8000000000001" x2="509.3" y2="841.8000000000001" stroke="#000" stroke-width="1.7" />
<line x1="506.2" y1="838.8000000000001" x2="506.2" y2="844.8000000000001" stroke="#000" stroke-width="1.7" />
<rect x="96.6" y="951.2" width="4.8" height="2.7999999999999545" rx="1.2" fill="#1a1a1a"/>
<rect x="170.1" y="951.0" width="4.8" height="3.0" rx="1.2" fill="#1a1a1a"/>
<rect x="196.79999999999998" y="951.6" width="4.8" height="2.3999999999999773" rx="1.2" fill="#1a1a1a"/>
<rect x="304.1" y="951.4" width="4.8" height="2.6000000000000227" rx="1.2" fill="#1a1a1a"/>
<rect x="331.1" y="951.4" width="4.8" height="2.6000000000000227" rx="1.2" fill="#1a1a1a"/>
<rect x="358.0" y="951.8" width="4.8" height="2.2000000000000455" rx="1.2" fill="#1a1a1a"/>
<rect x="412.8" y="952.4" width="4.8" height="1.6000000000000227" rx="1.2" fill="#1a1a1a"/>
<rect x="1" y="1" width="518" height="1041" fill="none" stroke="#000" stroke-width="2"/>
</svg>
</body></html>
